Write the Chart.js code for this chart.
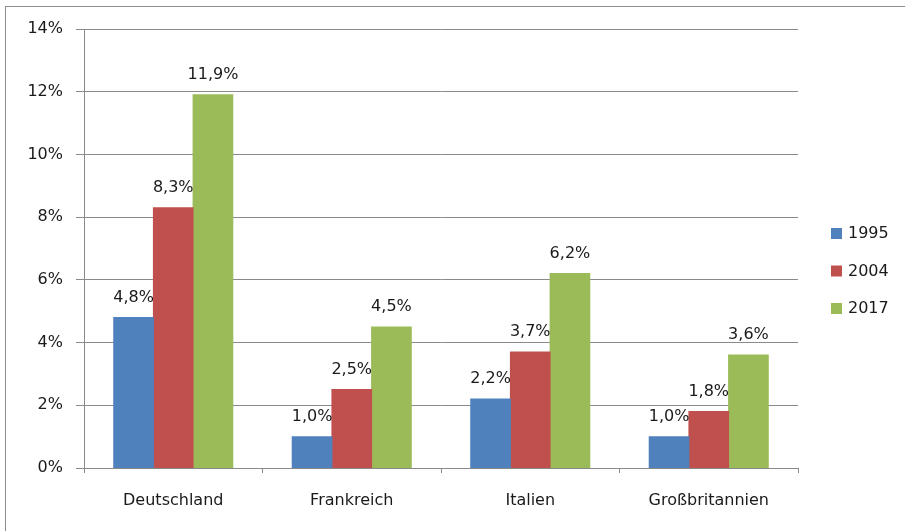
<!DOCTYPE html>
<html>
<head>
<meta charset="utf-8">
<script src="https://cdn.jsdelivr.net/npm/chart.js@4"></script>
<style>
  html, body { margin: 0; padding: 0; background: #fff; overflow: hidden; }
  #frame {
    position: absolute; left: 5px; top: 6px; width: 1000px; height: 600px;
    border-left: 1px solid #8e8e8e; border-top: 1px solid #8e8e8e;
  }
  #wrap { position: absolute; left: 0; top: 0; width: 905px; height: 531px; }
</style>
</head>
<body>
<div id="frame"></div>
<div id="wrap"><canvas id="barChart"></canvas></div>
<script>
// Werte (in Prozent)
const countries = ['Deutschland', 'Frankreich', 'Italien', 'Großbritannien'];
const years = ['1995', '2004', '2017'];
const values1995 = [4.8, 1.0, 2.2, 1.0];
const values2004 = [8.3, 2.5, 3.7, 1.8];
const values2017 = [11.9, 4.5, 6.2, 3.6];
const yTicks = [0, 2, 4, 6, 8, 10, 12, 14];

const colors = ['#4F81BD', '#C0504D', '#9BBB59'];
const gridColor = '#8a8a8a';
const textColor = '#1a1a1a';
const fontFamily = '"DejaVu Sans", Verdana, sans-serif';

function formatPct(v) {
  return v.toFixed(1).replace('.', ',') + '%';
}

// Beschriftung über den Balken
const valueLabels = {
  id: 'valueLabels',
  afterDatasetsDraw(chart) {
    const ctx = chart.ctx;
    ctx.save();
    ctx.font = '16px ' + fontFamily;
    ctx.fillStyle = textColor;
    ctx.textAlign = 'center';
    ctx.textBaseline = 'middle';
    chart.data.datasets.forEach((ds, i) => {
      chart.getDatasetMeta(i).data.forEach((bar, j) => {
        ctx.fillText(formatPct(ds.data[j]), bar.x, bar.y - 20);
      });
    });
    ctx.restore();
  }
};

// Legende rechts, wie im Original
const sideLegend = {
  id: 'sideLegend',
  afterDraw(chart) {
    const ctx = chart.ctx;
    ctx.save();
    ctx.font = '16px ' + fontFamily;
    ctx.textBaseline = 'middle';
    ctx.textAlign = 'left';
    chart.data.datasets.forEach((ds, i) => {
      const y = 233 + i * 37.5;
      ctx.fillStyle = ds.backgroundColor;
      ctx.fillRect(831, y - 5, 11, 11);
      ctx.fillStyle = textColor;
      ctx.fillText(ds.label, 848, y + 1);
    });
    ctx.restore();
  }
};

const datasets = [values1995, values2004, values2017].map((vals, i) => ({
  label: years[i],
  data: vals,
  backgroundColor: colors[i],
  borderWidth: 0,
  inflateAmount: 0.5,
  categoryPercentage: 0.667,
  barPercentage: 1.0
}));

const ctx = document.getElementById('barChart').getContext('2d');
new Chart(ctx, {
  type: 'bar',
  data: { labels: countries, datasets: datasets },
  options: {
    responsive: true,
    maintainAspectRatio: false,
    animation: false,
    layout: { padding: { top: 29, right: 107, bottom: 0, left: 0 } },
    plugins: {
      legend: { display: false },
      tooltip: { enabled: false }
    },
    scales: {
      x: {
        grid: {
          drawOnChartArea: false,
          drawTicks: true,
          tickLength: 5,
          color: gridColor,
          offset: true
        },
        border: { color: gridColor },
        ticks: {
          color: textColor,
          font: { family: fontFamily, size: 16 },
          padding: 18,
          maxRotation: 0
        },
        afterFit(scale) { scale.height = 63; }
      },
      y: {
        min: yTicks[0],
        max: yTicks[yTicks.length - 1],
        afterBuildTicks(scale) { scale.ticks = yTicks.map(v => ({ value: v })); },
        grid: { color: gridColor, tickLength: 8 },
        border: { color: gridColor },
        ticks: {
          color: textColor,
          font: { family: fontFamily, size: 16 },
          padding: 13,
          callback: v => v + '%'
        },
        afterFit(scale) { scale.width = 84; }
      }
    }
  },
  plugins: [valueLabels, sideLegend]
});
</script>
</body>
</html>
